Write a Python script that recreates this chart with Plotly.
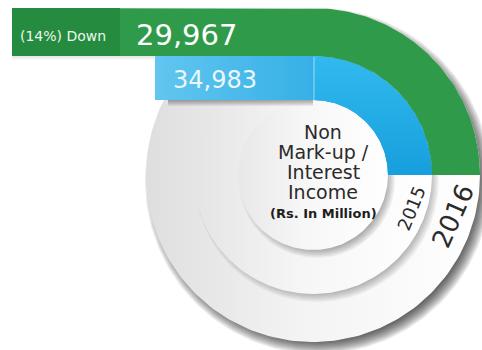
import numpy as np
import plotly.graph_objects as go

# --- data -------------------------------------------------------------
years = ["2016", "2015"]
values = [29967, 34983]          # Rs. in million
change_label = "(14%) Down"
title_lines = ["Non", "Mark-up /", "Interest", "Income"]
unit_label = "(Rs. In Million)"

# --- geometry / style (canvas units, y grows downward) ----------------
W, H = 482, 350
CX, CY = 313, 175                 # common centre of the rings
R_OUT, R_MID, R_IN = 167, 119, 75
BAR_LEFT = {"2016": 12, "2015": 155}
TAG_RIGHT = 120                   # end of the darker "change" tag
GREEN, GREEN_DARK = "#2f9b4a", "#248b3f"
FONT = "DejaVu Sans"
TXT = "#2b2b2b"

fig = go.Figure()


def poly(xs, ys, color=None, gradient=None):
    tr = dict(x=list(xs), y=list(ys), mode="lines", line=dict(width=0),
              fill="toself", hoverinfo="skip", showlegend=False)
    if color is not None:
        tr["fillcolor"] = color
    if gradient is not None:
        tr["fillgradient"] = gradient
    fig.add_trace(go.Scatter(**tr))


def circle(cx, cy, r, n=240):
    t = np.linspace(0, 2 * np.pi, n)
    return cx + r * np.cos(t), cy + r * np.sin(t)


def soft_shadow(r, dx, dy, r_lo, r_hi, layers, alpha):
    for k in range(layers):
        rr = r - r_lo + (r_lo + r_hi) * k / (layers - 1)
        xs, ys = circle(CX + dx, CY + dy, rr)
        poly(xs, ys, color=f"rgba(0,0,0,{alpha})")


def disk(r, c_left, c_mid, c_right):
    xs, ys = circle(CX, CY, r)
    poly(xs, ys, gradient=dict(type="horizontal",
                               colorscale=[[0, c_left], [0.45, c_mid], [1, c_right]]))


# stacked discs with soft drop shadows toward the lower right
soft_shadow(R_OUT, 5, 6, 8, 6, 12, 0.08)
disk(R_OUT, "#dedede", "#f3f3f3", "#ffffff")
soft_shadow(R_MID, 4, 5, 8, 3, 9, 0.045)
disk(R_MID, "#e4e4e4", "#f6f6f6", "#ffffff")
soft_shadow(R_IN, 4, 5, 8, 3, 9, 0.05)
disk(R_IN, "#e8e8e8", "#f7f7f7", "#ffffff")


def band(r_in, r_out, x_left):
    """Horizontal bar from x_left into a quarter arc ending on the centre line."""
    th = np.linspace(np.pi / 2, 0, 90)
    xo, yo = CX + r_out * np.cos(th), CY - r_out * np.sin(th)
    xi, yi = CX + r_in * np.cos(th[::-1]), CY - r_in * np.sin(th[::-1])
    xs = [x_left] + list(xo) + list(xi) + [x_left]
    ys = [CY - r_out] + list(yo) + list(yi) + [CY - r_in]
    return xs, ys


def arc_only(r_in, r_out):
    th = np.linspace(np.pi / 2, 0, 90)
    xo, yo = CX + r_out * np.cos(th), CY - r_out * np.sin(th)
    xi, yi = CX + r_in * np.cos(th[::-1]), CY - r_in * np.sin(th[::-1])
    return list(xo) + list(xi), list(yo) + list(yi)


# shadow cast by the blue bar on the discs
top_blue = CY - R_MID
bot_blue = CY - R_IN
for k in range(6):
    poly([168, CX, CX, 168], [bot_blue, bot_blue, bot_blue + 1 + k, bot_blue + 1 + k],
         color="rgba(0,0,0,0.06)")
# faint shadow under the green bar
for k in range(4):
    poly([12, BAR_LEFT["2015"], BAR_LEFT["2015"], 12],
         [top_blue, top_blue, top_blue + 1 + k, top_blue + 1 + k], color="rgba(0,0,0,0.025)")

# 2015 band (blue)
xs, ys = band(R_IN, R_MID, BAR_LEFT["2015"])
poly(xs, ys, color="#1ea6e0")
poly([BAR_LEFT["2015"], CX + 1, CX + 1, BAR_LEFT["2015"]],
     [top_blue, top_blue, bot_blue, bot_blue],
     gradient=dict(type="horizontal", colorscale=[[0, "#62c6f0"], [1, "#35b0e6"]]))
xs, ys = arc_only(R_IN, R_MID)
poly(xs, ys, gradient=dict(type="vertical", colorscale=[[0, "#169fdc"], [1, "#32b9ef"]]))
fig.add_trace(go.Scatter(x=[CX + 1, CX + 1], y=[top_blue + 1, bot_blue], mode="lines",
                         line=dict(color="rgba(255,255,255,0.55)", width=1),
                         hoverinfo="skip", showlegend=False))

# 2016 band (green) with the darker change tag
xs, ys = band(R_MID, R_OUT, BAR_LEFT["2016"])
poly(xs, ys, color=GREEN)
poly([BAR_LEFT["2016"], TAG_RIGHT, TAG_RIGHT, BAR_LEFT["2016"]],
     [CY - R_OUT, CY - R_OUT, CY - R_MID, CY - R_MID], color=GREEN_DARK)

# --- text --------------------------------------------------------------
ann = []


def label(x, y, text, size, color, angle=0, bold=False):
    ann.append(dict(x=x, y=y, xref="x", yref="y", text=f"<b>{text}</b>" if bold else text,
                    showarrow=False, xanchor="center", yanchor="middle", textangle=angle,
                    font=dict(family=FONT, size=size, color=color)))


label(186, 35, f"{values[0]:,}", 29, "white")
label(215, 80, f"{values[1]:,}", 24, "#eaf7fd")
label(63, 36, change_label, 14, "#eef7ef")
for i, line in enumerate(title_lines):
    label(323, 132 + 20 * i, line, 19, TXT)
label(323, 213, unit_label, 13, "#1e1e1e", bold=True)
label(411, 208, years[1], 18, TXT, angle=-68)
label(453, 216, years[0], 26, TXT, angle=-66)

fig.update_layout(
    width=W, height=H, margin=dict(l=0, r=0, t=0, b=0),
    paper_bgcolor="white", plot_bgcolor="white", showlegend=False,
    xaxis=dict(range=[0, W], visible=False, fixedrange=True),
    yaxis=dict(range=[H, 0], visible=False, fixedrange=True),
    annotations=ann,
)
fig.write_html("out.html", config={"displayModeBar": False})
